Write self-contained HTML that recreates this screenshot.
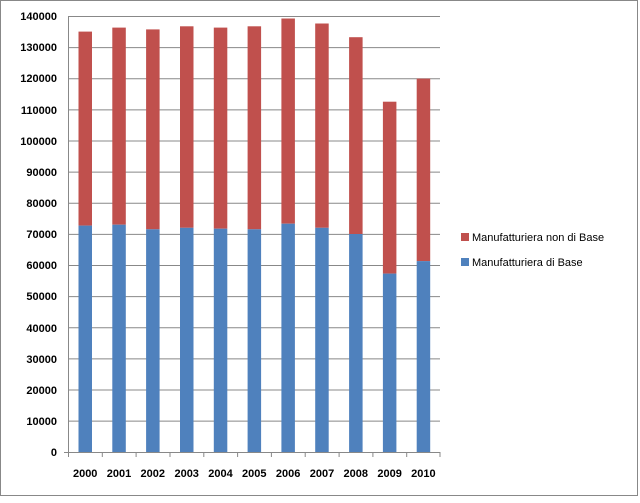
<!DOCTYPE html>
<html><head><style>body{margin:0;background:#fff}</style></head><body>
<svg width="640" height="498" xmlns="http://www.w3.org/2000/svg" font-family="Liberation Sans, sans-serif" font-size="11" font-weight="bold" fill="#000">
<rect x="0.5" y="0.5" width="637" height="495" fill="#fff" stroke="#888"/>
<g stroke="#888" stroke-width="1">
<line x1="68" y1="16.5" x2="440" y2="16.5"/><line x1="68" y1="47.6" x2="440" y2="47.6"/><line x1="68" y1="78.8" x2="440" y2="78.8"/><line x1="68" y1="109.9" x2="440" y2="109.9"/><line x1="68" y1="141" x2="440" y2="141"/><line x1="68" y1="172.1" x2="440" y2="172.1"/><line x1="68" y1="203.3" x2="440" y2="203.3"/><line x1="68" y1="234.4" x2="440" y2="234.4"/><line x1="68" y1="265.5" x2="440" y2="265.5"/><line x1="68" y1="296.6" x2="440" y2="296.6"/><line x1="68" y1="327.8" x2="440" y2="327.8"/><line x1="68" y1="358.9" x2="440" y2="358.9"/><line x1="68" y1="390" x2="440" y2="390"/><line x1="68" y1="421.1" x2="440" y2="421.1"/>
<line x1="68.5" y1="16" x2="68.5" y2="457"/><line x1="64" y1="452.5" x2="440" y2="452.5"/>
</g>
<g fill="#C0504D">
<rect x="78.5" y="31.6" width="13.5" height="194"/><rect x="112.3" y="27.6" width="13.5" height="197.1"/><rect x="146.1" y="29.4" width="13.5" height="199.9"/><rect x="180" y="26.3" width="13.5" height="201.5"/><rect x="213.8" y="27.6" width="13.5" height="201.1"/><rect x="247.6" y="26.3" width="13.5" height="203"/><rect x="281.4" y="18.5" width="13.5" height="205.2"/><rect x="315.2" y="23.5" width="13.5" height="204.3"/><rect x="349.1" y="37.2" width="13.5" height="196.8"/><rect x="382.9" y="101.7" width="13.5" height="171.9"/><rect x="416.7" y="78.6" width="13.5" height="182.5"/>
</g>
<g fill="#4F81BD">
<rect x="78.5" y="225.6" width="13.5" height="226.4"/><rect x="112.3" y="224.7" width="13.5" height="227.3"/><rect x="146.1" y="229.3" width="13.5" height="222.7"/><rect x="180" y="227.8" width="13.5" height="224.2"/><rect x="213.8" y="228.7" width="13.5" height="223.3"/><rect x="247.6" y="229.3" width="13.5" height="222.7"/><rect x="281.4" y="223.7" width="13.5" height="228.3"/><rect x="315.2" y="227.8" width="13.5" height="224.2"/><rect x="349.1" y="234" width="13.5" height="218"/><rect x="382.9" y="273.6" width="13.5" height="178.4"/><rect x="416.7" y="261.1" width="13.5" height="190.9"/>
</g>
<g stroke="#888"><line x1="102.3" y1="452" x2="102.3" y2="457"/><line x1="136.1" y1="452" x2="136.1" y2="457"/><line x1="170" y1="452" x2="170" y2="457"/><line x1="203.8" y1="452" x2="203.8" y2="457"/><line x1="237.6" y1="452" x2="237.6" y2="457"/><line x1="271.4" y1="452" x2="271.4" y2="457"/><line x1="305.2" y1="452" x2="305.2" y2="457"/><line x1="339.1" y1="452" x2="339.1" y2="457"/><line x1="372.9" y1="452" x2="372.9" y2="457"/><line x1="406.7" y1="452" x2="406.7" y2="457"/><line x1="440" y1="452" x2="440" y2="457"/></g>
<g text-anchor="end">
<text x="57" y="20">140000</text><text x="57" y="51">130000</text><text x="57" y="82">120000</text><text x="57" y="114">110000</text><text x="57" y="145">100000</text><text x="57" y="176">90000</text><text x="57" y="207">80000</text><text x="57" y="238">70000</text><text x="57" y="269">60000</text><text x="57" y="300">50000</text><text x="57" y="332">40000</text><text x="57" y="363">30000</text><text x="57" y="394">20000</text><text x="57" y="425">10000</text><text x="57" y="456">0</text>
</g>
<g text-anchor="middle">
<text x="85.2" y="477">2000</text><text x="119" y="477">2001</text><text x="152.8" y="477">2002</text><text x="186.7" y="477">2003</text><text x="220.5" y="477">2004</text><text x="254.3" y="477">2005</text><text x="288.1" y="477">2006</text><text x="322" y="477">2007</text><text x="355.8" y="477">2008</text><text x="389.6" y="477">2009</text><text x="423.4" y="477">2010</text>
</g>
<rect x="461" y="233" width="8" height="8" fill="#C0504D"/><text x="472" y="241" font-weight="normal">Manufatturiera non di Base</text>
<rect x="461" y="258" width="8" height="8" fill="#4F81BD"/><text x="472" y="266" font-weight="normal">Manufatturiera di Base</text>
</svg>
</body></html>
